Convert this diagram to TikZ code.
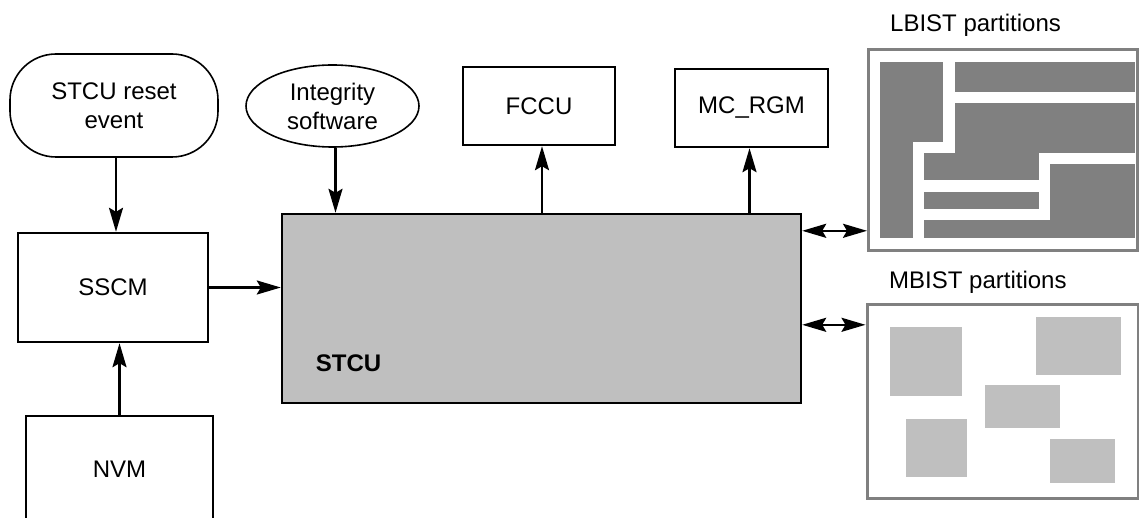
\documentclass[tikz,border=0pt]{standalone}
\usepackage{fontspec}
\setmainfont{Liberation Sans}
\usetikzlibrary{arrows.meta,shapes.geometric,calc}
\definecolor{blkgray}{HTML}{808080}
\definecolor{mgray}{HTML}{BFBFBF}
\begin{document}
\begin{tikzpicture}[x=1pt,y=-1pt,
  font=\fontsize{24}{29}\selectfont,
  line width=2.4pt,
  arr/.style={-{Stealth[length=24pt,width=14pt,inset=4pt]}},
  darr/.style={{Stealth[length=24pt,width=14pt,inset=4pt]}-{Stealth[length=24pt,width=14pt,inset=4pt]}},
  box/.style={draw,rectangle,inner sep=0pt,align=center},
  part/.style={draw=blkgray,line width=3pt,rectangle,inner sep=0pt},
  dark/.style={fill=blkgray},
  light/.style={fill=mgray}]
\useasboundingbox (0,0) rectangle (1139,518);

% nodes
\node[box,line width=1.6pt,rounded corners=46pt,minimum width=208pt,minimum height=103pt] (reset) at (114,105.5) {STCU reset\\event};
\node[draw,line width=1.6pt,ellipse,inner sep=0pt,minimum width=173pt,minimum height=82pt,align=center] (integ) at (332.5,106) {Integrity\\software};
\node[box,minimum width=190pt,minimum height=109pt] (sscm) at (113,287.5) {SSCM};
\node[box,minimum width=187pt,minimum height=106pt] (nvm) at (119.5,469) {NVM};
\node[box,fill=mgray,minimum width=519pt,minimum height=189pt] (stcu) at (541.5,308.5) {};
\node[anchor=center,font=\fontsize{24}{29}\selectfont\bfseries] (stculbl) at (348.5,363) {STCU};
\node[box,minimum width=152pt,minimum height=78pt] (fccu) at (539,106) {FCCU};
\node[box,minimum width=153pt,minimum height=78pt] (mcrgm) at (751.5,108) {MC\_RGM};

\node[part,minimum width=269pt,minimum height=201pt] (lbist) at (1003,150.5) {};
\node[part,minimum width=271pt,minimum height=194pt] (mbist) at (1002.5,401) {};
\node[anchor=base west,inner sep=0pt] (lbistlbl) at (889,32) {LBIST partitions};
\node[anchor=base west,inner sep=0pt] (mbistlbl) at (888,289) {MBIST partitions};

% LBIST partition shapes
\fill[dark] (880,62) rectangle (943,142);
\fill[dark] (880,142) rectangle (913,238);
\fill[dark] (955,62) rectangle (1135,92);
\fill[dark] (955,103) rectangle (1135,153);
\fill[dark] (924,153) rectangle (1039,180);
\fill[dark] (924,192) rectangle (1039,209);
\fill[dark] (924,220) rectangle (1135,238);
\fill[dark] (1050,164) rectangle (1135,238);

% MBIST partition shapes
\fill[light] (890,327) rectangle (962,396);
\fill[light] (1036,317) rectangle (1121,375);
\fill[light] (985,385) rectangle (1060,428);
\fill[light] (906,419) rectangle (967,477);
\fill[light] (1050,439) rectangle (1115,483);

% connectors
\draw[arr] ([xshift=2pt]reset.south) -- ([xshift=2pt]reset.south |- sscm.north);
\draw[arr] (nvm.north) -- (nvm.north |- sscm.south);
\draw[arr] (sscm.east) -- (sscm.east -| stcu.west);
\draw[arr] ([xshift=3pt]integ.south) -- ([xshift=3pt]integ.south |- stcu.north);
\draw[arr] ([xshift=3pt]fccu.south |- stcu.north) -- ([xshift=3pt]fccu.south);
\draw[arr] ([xshift=-2pt]mcrgm.south |- stcu.north) -- ([xshift=-2pt]mcrgm.south);
\draw[darr] ([yshift=-18pt]stcu.north east) -- ([yshift=-18pt]stcu.north east -| lbist.west);
\draw[darr] ([yshift=-112pt]stcu.north east) -- ([yshift=-112pt]stcu.north east -| mbist.west);
\end{tikzpicture}
\end{document}
